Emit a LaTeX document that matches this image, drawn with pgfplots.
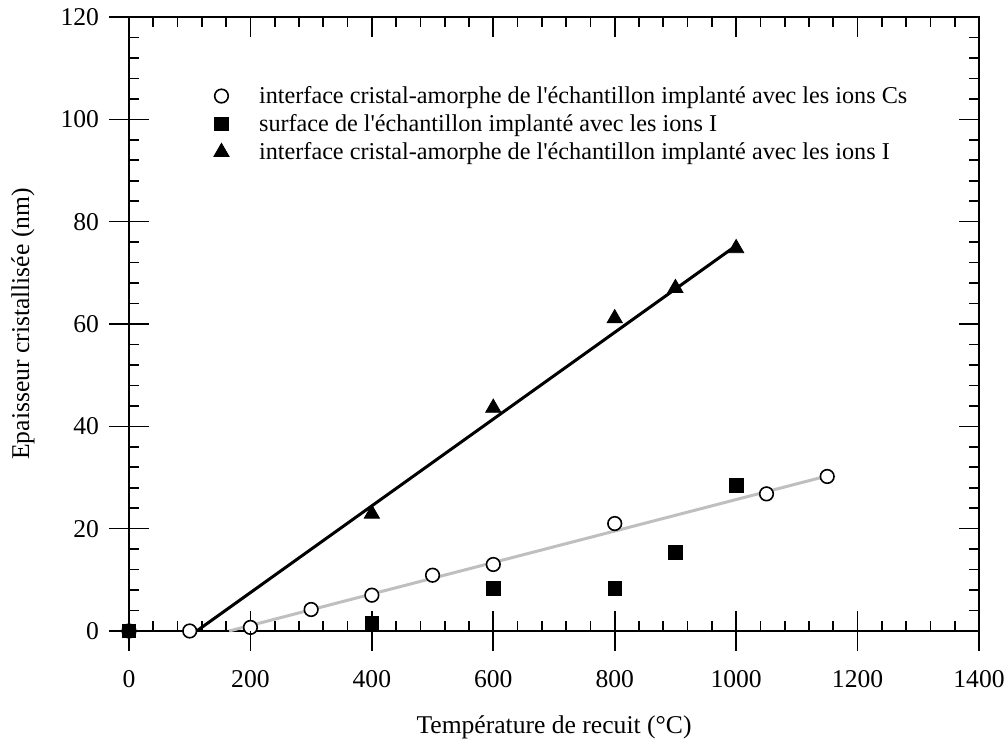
\documentclass[border=0pt]{standalone}
\usepackage{fontspec}
\setmainfont{Liberation Serif}[Ligatures=TeXOff]
\usepackage{pgfplots}
\pgfplotsset{compat=1.18}
\begin{document}
\begin{tikzpicture}
\pgfplotsset{commonax/.style={scale only axis, width=425pt, height=307pt,
  xmin=0, xmax=1400, ymin=0, ymax=120,
  xtick={0,200,...,1400}, ytick={0,20,...,120},
  every tick/.style={black, line width=0.8pt}}}
\begin{axis}[commonax,
  minor x tick num=4, minor y tick num=4,
  tick align=inside, major tick length=10pt, minor tick length=5pt,
  axis line style={line width=1pt},
  /pgf/number format/assume math mode=true,
  /pgf/number format/set thousands separator={},
  ticklabel style={font=\fontsize{12.8}{15}\selectfont},
  xticklabel style={yshift=-16pt},
  yticklabel style={xshift=-11.5pt},
  xlabel={Température de recuit (°C)},
  ylabel={Epaisseur cristallisée (nm)},
  every axis x label/.style={at={([yshift=-39pt]rel axis cs:0.5,0)}, anchor=north, font=\fontsize{12.8}{15}\selectfont},
  every axis y label/.style={at={([xshift=-53pt]rel axis cs:0,0.5)}, anchor=center, rotate=90, font=\fontsize{12.8}{15}\selectfont},
  legend style={draw=none, fill=none, at={(rel axis cs:0.097,0.898)}, anchor=north west,
    font=\fontsize{12.1}{14}\selectfont, row sep=0pt, inner sep=1pt,
    /tikz/every odd column/.append style={column sep=13pt}},
  legend cell align=left,
  clip=false,
]
\coordinate (SW) at (rel axis cs:0,0);
\coordinate (NE) at (rel axis cs:1,1);
% fitted lines
\addplot[black, line width=1.5pt, forget plot] coordinates {(111.5,0) (1001,75.4)};
\addplot[black!25, line width=1.5pt, forget plot] coordinates {(165,0) (1150,30.3)};
% data
\addplot[only marks, mark=*, mark size=3.4pt, mark options={fill=white, draw=black, line width=0.8pt}]
 coordinates {(0,0) (100,0) (200,0.7) (300,4.2) (400,7.0) (500,10.9) (600,13.0) (800,21.0) (1050,26.8) (1150,30.2)};
\addlegendentry{interface cristal-amorphe de l'échantillon implanté avec les ions Cs}
\addplot[only marks, mark=square*, mark size=3.4pt, mark options={fill=black, draw=black}]
 coordinates {(0,0) (400,1.5) (600,8.3) (800,8.3) (900,15.4) (1000,28.4)};
\addlegendentry{surface de l'échantillon implanté avec les ions I}
\addplot[only marks, mark=triangle*, mark size=4.4pt, mark options={fill=black, draw=black}]
 coordinates {(400,22.9) (600,43.6) (800,61.1) (900,67.0) (1000,74.8)};
\addlegendentry{interface cristal-amorphe de l'échantillon implanté avec les ions I}
\end{axis}
\begin{axis}[commonax, axis x line*=bottom, axis y line*=left, axis line style={draw=none},
  tick align=outside, major tick length=10pt, minor tick num=0,
  xticklabels={}, yticklabels={}]
\end{axis}
\pgfresetboundingbox
\path ([xshift=-64.5pt,yshift=-58pt]SW) rectangle ([xshift=14.5pt,yshift=8.5pt]NE);
\end{tikzpicture}
\end{document}
